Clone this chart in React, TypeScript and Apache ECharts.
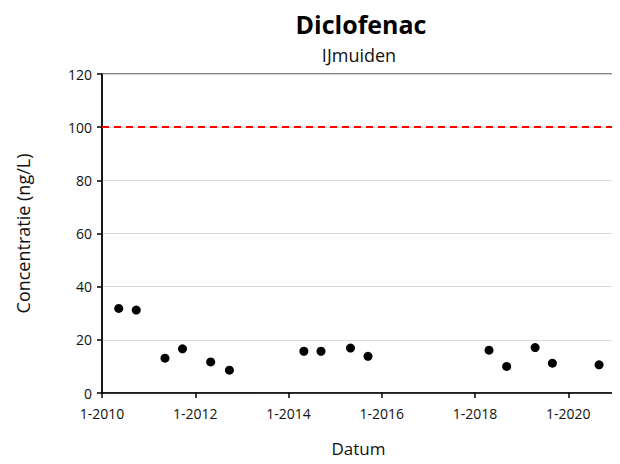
import React, { useEffect, useRef } from "react";
import * as echarts from "echarts";

const dates = [
  "2010-05-12", "2010-09-26", "2011-05-09", "2011-09-23", "2012-05-01", "2012-09-25",
  "2014-05-01", "2014-09-12", "2015-05-01", "2015-09-15", "2018-04-20", "2018-09-05",
  "2019-04-16", "2019-08-29", "2020-08-29",
];
const values = [31.8, 31.2, 13.1, 16.6, 11.7, 8.6, 15.7, 15.7, 16.9, 13.8, 16.1, 10.0, 17.1, 11.2, 10.6];
const limitValue = 100;
const xTickYears = [2010, 2012, 2014, 2016, 2018, 2020];

function toYear(d: string): number {
  const [y, m, day] = d.split("-").map(Number);
  const start = Date.UTC(y, 0, 1);
  const end = Date.UTC(y + 1, 0, 1);
  return y + (Date.UTC(y, m - 1, day) - start) / (end - start);
}

export default function App() {
  const ref = useRef<HTMLDivElement>(null);
  useEffect(() => {
    const chart = echarts.init(ref.current!, undefined, { renderer: "svg" });
    const font = "'Open Sans', sans-serif";
    chart.setOption({
      animation: false,
      textStyle: { fontFamily: font },
      title: [
        {
          text: "Diclofenac",
          left: 356,
          top: 6,
          textAlign: "center",
          textStyle: { fontSize: 25, fontWeight: "bold", color: "#000", fontFamily: font },
        },
        {
          text: "IJmuiden",
          left: 354,
          top: 41,
          textAlign: "center",
          textStyle: { fontSize: 18, fontWeight: "normal", color: "#111", fontFamily: font },
        },
      ],
      grid: {
        left: 102,
        right: 5,
        top: 74,
        bottom: 71,
        show: true,
        borderColor: "#000",
        borderWidth: 1.2,
        containLabel: false,
      },
      xAxis: {
        type: "value",
        min: 2010,
        max: 2021,
        name: "Datum",
        nameLocation: "middle",
        nameGap: 47,
        nameTextStyle: { fontSize: 17, color: "#111", fontFamily: font },
        axisLine: { show: true, onZero: false, lineStyle: { color: "#000", width: 1.5 } },
        axisTick: { show: true, customValues: xTickYears, length: 5, lineStyle: { color: "#000", width: 1.5 } },
        axisLabel: {
          customValues: xTickYears,
          formatter: (v: number) => `1-${v}`,
          fontSize: 14,
          color: "#111",
          margin: 13,
          fontFamily: font,
        },
        splitLine: { show: false },
      },
      yAxis: {
        type: "value",
        min: 0,
        max: 120,
        interval: 20,
        name: "Concentratie (ng/L)",
        nameLocation: "middle",
        nameGap: 70,
        nameTextStyle: { fontSize: 18, color: "#111", fontFamily: font },
        axisLine: { show: true, lineStyle: { color: "#000", width: 1.5 } },
        axisTick: { show: true, length: 5, lineStyle: { color: "#000", width: 1.5 } },
        axisLabel: { fontSize: 14, color: "#111", margin: 10, fontFamily: font },
        splitLine: { show: true, lineStyle: { color: "#d9d9d9", width: 1 } },
      },
      series: [
        {
          type: "scatter",
          data: dates.map((d, i) => [toYear(d), values[i]]),
          symbol: "circle",
          symbolSize: 9,
          itemStyle: { color: "#000", opacity: 1 },
          markLine: {
            silent: true,
            symbol: "none",
            label: { show: false },
            lineStyle: { color: "#ff0000", width: 2, type: [7, 5], opacity: 1 },
            data: [{ yAxis: limitValue }],
          },
        },
      ],
    });
    return () => chart.dispose();
  }, []);
  return <div ref={ref} style={{ width: 620, height: 464, margin: -8 }} />;
}
